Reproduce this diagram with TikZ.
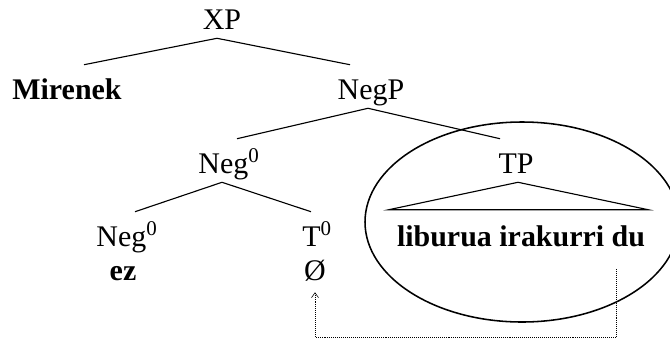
\documentclass[tikz,border=0pt]{standalone}
\usepackage{fontspec}
\setmainfont{Liberation Serif}
\usetikzlibrary{shapes.geometric, arrows.meta}

\begin{document}
\begin{tikzpicture}[
    cat/.style={
        anchor=base,
        inner sep=0pt,
        text height=0.85cm,
        text depth=0.225cm,
        font=\fontsize{21.3}{24}\selectfont
    },
    word/.style={
        cat,
        font=\fontsize{21.3}{24}\selectfont\bfseries
    },
    branch/.style={
        line width=0.8pt
    },
    ring/.style={
        ellipse,
        draw,
        line width=1.1pt,
        inner sep=0pt,
        minimum width=7.85cm,
        minimum height=5cm
    },
    move/.style={
        -{Straight Barb[length=3.5pt, width=5pt]},
        densely dotted,
        thin
    }
]
\useasboundingbox (0,0) rectangle (16.75,8.475);

% Top of the tree
\node[cat] (xp) at (5.55,7.75) {XP};
\node[word] (mirenek) at (1.675,6.0) {Mirenek};
\node[cat] (negp) at (9.275,6.0) {NegP};

% Middle level
\node[cat] (negbar) at (5.725,4.15) {Neg\textsuperscript{0}};
\node[cat] (tp) at (12.9,4.15) {TP};

% Heads and words
\node[cat] (neghead) at (3.175,2.325) {Neg\textsuperscript{0}};
\node[word] (ez) at (3.075,1.475) {ez};
\node[cat] (thead) at (7.925,2.325) {T\textsuperscript{0}};
\node[cat] (empty) at (7.875,1.475) {Ø};
\node[word] (liburua) at (13.025,2.325) {liburua irakurri du};

% Ring round the TP
\node[ring] (tpring) at (13.05,2.925) {};

% Branches
\draw[branch] ([xshift=-0.125cm]xp.south) -- ([xshift=0.425cm]mirenek.north);
\draw[branch] ([xshift=-0.125cm]xp.south) -- ([xshift=-0.525cm]negp.north);
\draw[branch] ([xshift=-0.075cm]negp.south) -- ([xshift=0.2cm]negbar.north);
\draw[branch] ([xshift=-0.075cm]negp.south) -- ([xshift=-0.4cm]tp.north);
\draw[branch] ([xshift=-0.175cm]negbar.south) -- ([xshift=0.2cm]neghead.north);
\draw[branch] ([xshift=-0.175cm]negbar.south) -- ([xshift=-0.15cm]thead.north);
\draw[branch] ([xshift=0.05cm]tp.south) -- ([xshift=-0.2cm,yshift=0.05cm]liburua.north west)
    -- ([xshift=0.075cm,yshift=0.05cm]liburua.north east) -- cycle;

% Movement of the verb
\draw[move] ([xshift=-0.725cm,yshift=-0.35cm]liburua.south east) -- ++(0,-1.7)
    -| ([yshift=-0.075cm]empty.south);

\end{tikzpicture}
\end{document}
